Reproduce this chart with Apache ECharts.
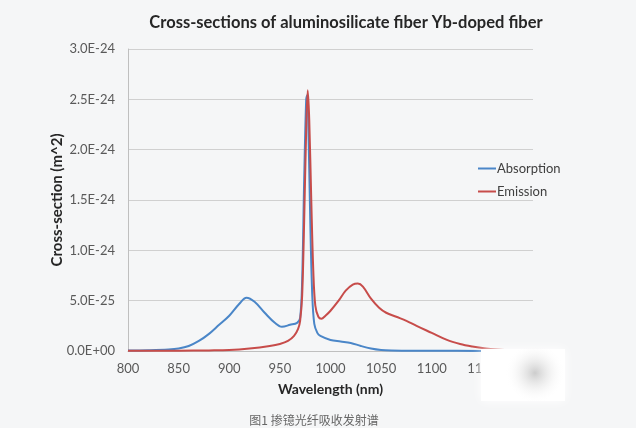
<!DOCTYPE html>
<html>
<head>
<meta charset="utf-8">
<script src="https://cdn.jsdelivr.net/npm/echarts@6/dist/echarts.min.js"></script>
<style>
  html, body { margin: 0; padding: 0; background: #f5f6f7; }
  #chart { width: 636px; height: 428px; }
</style>
</head>
<body>
<div id="chart"></div>
<script>
// cross-section values in units of 1e-24 m^2
const absWl  = [800, 820, 840, 850, 860, 870, 880, 890, 900, 910, 917, 925, 935, 945, 952, 960, 967, 970, 972, 974, 976, 977, 978, 980, 982, 984, 987, 990, 1000, 1010, 1020, 1030, 1040, 1050, 1060, 1080, 1100, 1150, 1200];
const absVal = [0.005, 0.008, 0.015, 0.025, 0.05, 0.1, 0.17, 0.26, 0.35, 0.47, 0.53, 0.49, 0.38, 0.28, 0.24, 0.26, 0.28, 0.33, 0.7, 1.7, 2.5, 2.54, 2.3, 1.3, 0.55, 0.27, 0.18, 0.15, 0.11, 0.095, 0.08, 0.05, 0.025, 0.01, 0.005, 0.003, 0.002, 0.001, 0.001];

const emWl  = [800, 850, 880, 900, 920, 940, 950, 958, 964, 968, 970, 972, 974, 976, 977.5, 979, 981, 983, 985, 988, 991, 995, 1000, 1008, 1015, 1022, 1027, 1032, 1040, 1048, 1055, 1065, 1075, 1085, 1100, 1115, 1128, 1140, 1150, 1165, 1180, 1200];
const emVal = [0.002, 0.003, 0.006, 0.01, 0.025, 0.05, 0.07, 0.1, 0.15, 0.22, 0.3, 0.55, 1.3, 2.2, 2.59, 2.3, 1.5, 0.8, 0.45, 0.34, 0.32, 0.35, 0.4, 0.5, 0.6, 0.66, 0.67, 0.64, 0.52, 0.43, 0.38, 0.34, 0.3, 0.25, 0.18, 0.11, 0.07, 0.045, 0.03, 0.015, 0.008, 0.005];

const yTickLabels = ['0.0E+00', '5.0E-25', '1.0E-24', '1.5E-24', '2.0E-24', '2.5E-24', '3.0E-24'];

const seriesNames = ['Absorption', 'Emission'];
const colors = ['#4a86c8', '#c74c4a'];

function pairs(xs, ys) {
  return xs.map((x, i) => [x, ys[i]]);
}

const chart = echarts.init(document.getElementById('chart'));

chart.setOption({
  backgroundColor: '#f5f6f7',
  textStyle: { fontFamily: 'Lato' },
  title: [
    {
      text: 'Cross-sections of aluminosilicate fiber Yb-doped fiber',
      left: 341,
      top: 9,
      textAlign: 'center',
      textStyle: { fontSize: 16.5, fontWeight: 'bold', color: '#262626', fontFamily: 'Lato' }
    },
    {
      text: '图1 掺镱光纤吸收发射谱',
      left: 309,
      top: 409,
      textAlign: 'center',
      textStyle: { fontSize: 12, fontWeight: 'normal', color: '#666', fontFamily: 'Noto Sans CJK SC' }
    }
  ],
  legend: {
    orient: 'vertical',
    left: 473,
    top: 157,
    itemGap: 10,
    itemWidth: 18,
    itemHeight: 2,
    icon: 'rect',
    data: seriesNames,
    textStyle: { fontSize: 13, color: '#404040', fontFamily: 'Lato', padding: [0, 0, 0, -4] }
  },
  grid: { left: 128, top: 49, right: 103, bottom: 77 },
  xAxis: {
    type: 'value',
    min: 800,
    max: 1200,
    interval: 50,
    name: 'Wavelength (nm)',
    nameLocation: 'middle',
    nameGap: 31,
    nameMoveOverlap: false,
    nameTextStyle: { fontSize: 14, fontWeight: 'bold', color: '#262626' },
    axisLine: { lineStyle: { color: '#bfbfbf' } },
    axisTick: { show: false },
    splitLine: { show: false },
    axisLabel: { fontSize: 13, color: '#595959', margin: 11, formatter: v => String(v) }
  },
  yAxis: {
    type: 'value',
    min: 0,
    max: 3,
    interval: 0.5,
    name: 'Cross-section (m^2)',
    nameLocation: 'middle',
    nameGap: 63,
    nameMoveOverlap: false,
    nameTextStyle: { fontSize: 15, fontWeight: 'bold', color: '#262626' },
    axisLine: { show: true, lineStyle: { color: '#bfbfbf' } },
    axisTick: { show: false },
    splitLine: { lineStyle: { color: '#d0d0d0' } },
    axisLabel: {
      fontSize: 13,
      color: '#595959',
      margin: 13,
      formatter: (v, i) => yTickLabels[i]
    }
  },
  series: [
    {
      name: seriesNames[0],
      type: 'line',
      data: pairs(absWl, absVal),
      showSymbol: false,
      smooth: 0.35,
      lineStyle: { width: 2, color: colors[0] },
      itemStyle: { color: colors[0] }
    },
    {
      name: seriesNames[1],
      type: 'line',
      data: pairs(emWl, emVal),
      showSymbol: false,
      smooth: 0.35,
      lineStyle: { width: 2, color: colors[1] },
      itemStyle: { color: colors[1] }
    }
  ],
  graphic: [
    {
      type: 'rect',
      shape: { x: 481, y: 349, width: 84, height: 52 },
      style: { fill: '#ffffff', shadowBlur: 10, shadowColor: 'rgba(255,255,255,1)' },
      z: 100
    },
    {
      type: 'circle',
      shape: { cx: 535, cy: 373, r: 30 },
      style: {
        fill: {
          type: 'radial', x: 0.5, y: 0.5, r: 0.5,
          colorStops: [
            { offset: 0, color: 'rgba(195,195,195,0.85)' },
            { offset: 1, color: 'rgba(255,255,255,0)' }
          ]
        }
      },
      z: 101
    }
  ]
});
</script>
</body>
</html>
